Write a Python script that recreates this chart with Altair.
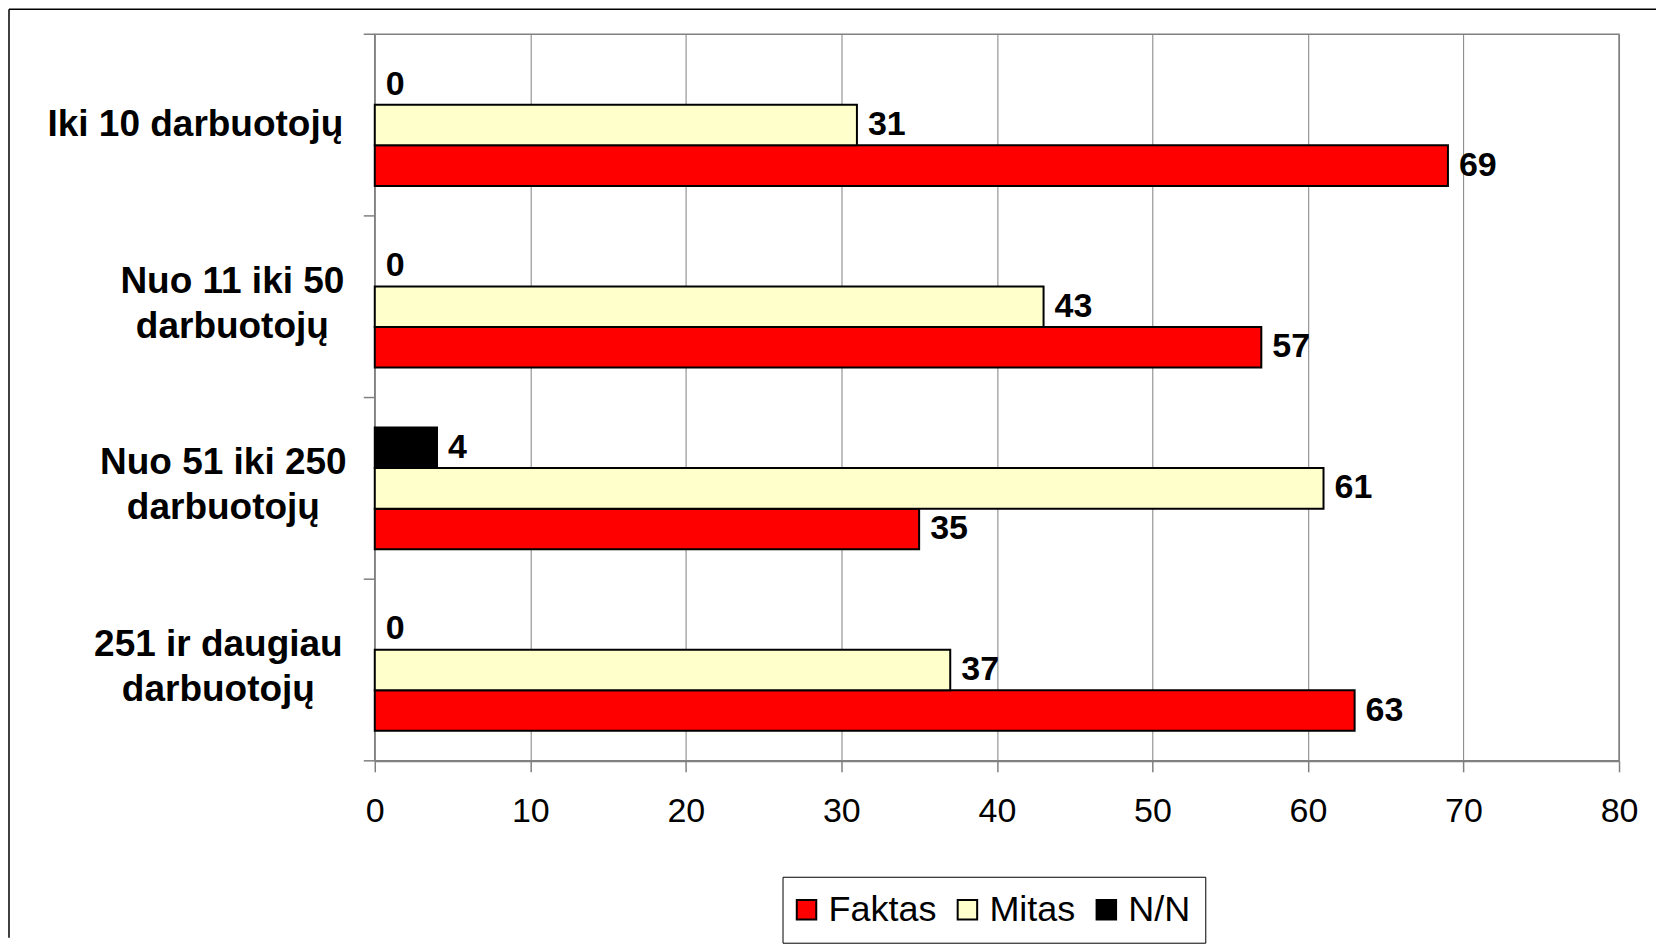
import altair as alt
import pandas as pd

categories = ["Iki 10 darbuotojų", "Nuo 11 iki 50\ndarbuotojų",
              "Nuo 51 iki 250\ndarbuotojų", "251 ir daugiau\ndarbuotojų"]
faktas = [69, 57, 35, 63]
mitas = [31, 43, 61, 37]
nn = [0, 0, 4, 0]
series = ["Faktas", "Mitas", "N/N"]
colors = ["#FF0000", "#FFFFCC", "#000000"]
stack_order = ["N/N", "Mitas", "Faktas"]
x_ticks = list(range(0, 81, 10))

rows = []
for i, c in enumerate(categories):
    for s, vals in zip(series, [faktas, mitas, nn]):
        rows.append({"cat": c, "series": s, "value": vals[i]})
df = pd.DataFrame(rows)
cat_df = pd.DataFrame({"cat": categories})

FONT = "Liberation Sans"
W, H = 1245, 727
P_IN, P_OUT = 0.33, 0.165
STEP = H / len(categories)

# label block centres (distance left of the axis) so lines are centred like Excel
label_pad = {
    "condition": [
        {"test": "indexof(datum.value, 'Iki 10') >= 0", "value": 180},
        {"test": "indexof(datum.value, 'Nuo 11') >= 0", "value": 143},
        {"test": "indexof(datum.value, 'Nuo 51') >= 0", "value": 152},
        {"test": "indexof(datum.value, '251 ir') >= 0", "value": 157},
    ],
    "value": 29,
}
label_off = {"condition": {"test": "indexof(datum.value, 'Iki 10') < 0", "value": -25},
             "value": 0}

y_enc = alt.Y("cat:N", sort=categories, title=None,
              scale=alt.Scale(domain=categories, paddingInner=P_IN, paddingOuter=P_OUT),
              axis=alt.Axis(labelExpr="split(datum.label, '\\n')", labelAlign="center",
                            labelBaseline="middle", labelFont=FONT, labelFontSize=37,
                            labelFontWeight="bold", labelColor="black", labelLineHeight=45,
                            ticks=False, tickSize=0, labelPadding=label_pad,
                            labelOffset=label_off, domain=False,
                            grid=False, labelLimit=400))
yoff = alt.YOffset("series:N", scale=alt.Scale(domain=stack_order, paddingInner=0, paddingOuter=0))
x_enc = alt.X("value:Q", title=None,
              scale=alt.Scale(domain=[0, 80], nice=False),
              axis=alt.Axis(values=x_ticks, grid=True, gridColor="#808080", gridWidth=1,
                            ticks=True, tickSize=11, tickColor="#808080", tickWidth=1.5,
                            domainColor="#808080", domainWidth=2,
                            labelFont=FONT, labelFontSize=34, labelColor="black",
                            labelPadding=23, labelFlush=False))

bars = alt.Chart(df).transform_filter("datum.value > 0").mark_bar(
    stroke="black", strokeWidth=2).encode(
    x=x_enc, y=y_enc, yOffset=yoff,
    color=alt.Color("series:N", scale=alt.Scale(domain=series, range=colors),
                    legend=alt.Legend(title=None, orient="none", legendX=408, legendY=843,
                                      direction="horizontal", symbolType="square",
                                      symbolSize=380, symbolStrokeColor="black",
                                      symbolStrokeWidth=2, labelFont=FONT, labelFontSize=36,
                                      labelColor="black", labelOffset=4, symbolOffset=-9,
                                      columnPadding=16,
                                      padding=15, strokeColor="black", fillColor="white",
                                      cornerRadius=0, symbolOpacity=1))
)

labels = alt.Chart(df).mark_text(align="left", baseline="middle", dx=11,
                                 font=FONT, fontSize=34, fontWeight="bold",
                                 color="black").encode(
    x="value:Q", y=alt.Y("cat:N", sort=categories), yOffset=alt.YOffset("series:N"),
    text=alt.Text("value:Q")
)

yticks = alt.Chart(cat_df).mark_rule(color="#808080", strokeWidth=1.5,
                                     yOffset=-P_OUT * STEP).encode(
    y=alt.Y("cat:N", sort=categories, bandPosition=0),
    x=alt.value(-11), x2=alt.value(0)
)
ytick_last = alt.Chart(alt.Data(values=[{"a": 1}])).mark_rule(
    color="#808080", strokeWidth=1.5).encode(
    y=alt.value(H), x=alt.value(-11), x2=alt.value(0)
)

frame_left = alt.Chart(alt.Data(values=[{"a": 1}])).mark_rule(
    color="black", strokeWidth=1.5).encode(
    x=alt.value(-366), y=alt.value(-25), y2=alt.value(904)
)
frame_top = alt.Chart(alt.Data(values=[{"a": 1}])).mark_rule(
    color="black", strokeWidth=1.5).encode(
    x=alt.value(-366), x2=alt.value(1282), y=alt.value(-25)
)

chart = alt.layer(frame_left, frame_top, bars, labels, yticks, ytick_last).properties(
    width=W, height=H, padding=0, background="white"
).configure_view(stroke="#808080", strokeWidth=1.5)

chart.save("out.html", embed_options={"renderer": "svg", "actions": False})
